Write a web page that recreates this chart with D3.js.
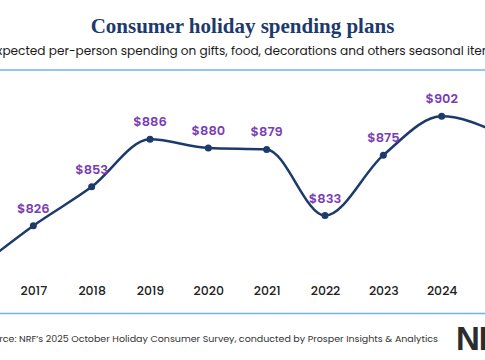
<!DOCTYPE html>
<html>
<head>
<meta charset="utf-8">
<script src="https://cdn.jsdelivr.net/npm/d3@7"></script>
<style>
html,body{margin:0;padding:0;background:#fff;overflow:hidden;}
svg{display:block;}
</style>
</head>
<body>
<svg id="chart" width="485" height="360"></svg>
<script>
const years = ["2016","2017","2018","2019","2020","2021","2022","2023","2024","2025"];
const spending = [795, 826, 853, 886, 880, 879, 833, 875, 902, 890];
const valueLabels = ["$795","$826","$853","$886","$880","$879","$833","$875","$902","$890"];
const title = "Consumer holiday spending plans";
const subtitle = "Expected per-person spending on gifts, food, decorations and others seasonal items";
const source = "Source: NRF’s 2025 October Holiday Consumer Survey, conducted by Prosper Insights & Analytics";

const W = 485, H = 360;
const svg = d3.select("#chart");
const sans = "Poppins, Inter, 'Open Sans', sans-serif";

const x = d3.scalePoint().domain(years).range([-25, 500]);
const y = d3.scaleLinear().domain([780, 910]).range([291.9, 104.8]);
const inView = yr => x(yr) > 0 && x(yr) < W;

// Title
svg.append("text").attr("x", W/2).attr("y", 33).attr("text-anchor","middle")
  .attr("font-family","'Liberation Serif', serif").attr("font-weight","bold")
  .attr("font-size", 21).attr("fill","#1d3a6e").text(title);

// Subtitle
svg.append("text").attr("x", W/2 + 3).attr("y", 55).attr("text-anchor","middle")
  .attr("font-family", sans).attr("font-size", 12.1).attr("fill","#1a1a1a").text(subtitle);

// top & bottom rules
svg.append("line").attr("x1",0).attr("x2",W).attr("y1",70).attr("y2",70)
  .attr("stroke","#74b0f4").attr("stroke-width",1.5);
svg.append("line").attr("x1",0).attr("x2",W).attr("y1",313.5).attr("y2",313.5)
  .attr("stroke","#74b0f4").attr("stroke-width",1.5);

const data = years.map((yr,i)=>({year:yr, v:spending[i], label:valueLabels[i]}));

// line
const line = d3.line().x(d=>x(d.year)).y(d=>y(d.v)).curve(d3.curveMonotoneX);
svg.append("path").datum(data).attr("d", line).attr("fill","none")
  .attr("stroke","#1c3a6c").attr("stroke-width",2.5);

svg.selectAll("circle.pt").data(data).join("circle").attr("class","pt")
  .attr("cx", d=>x(d.year)).attr("cy", d=>y(d.v)).attr("r",3.5).attr("fill","#1c3a6c");

// value labels (only those inside the visible frame, as in the reference)
svg.selectAll("text.val").data(data.filter(d=>inView(d.year))).join("text").attr("class","val")
  .attr("x", d=>x(d.year)).attr("y", d=>y(d.v)-13).attr("text-anchor","middle")
  .attr("font-family", sans).attr("font-weight","600").attr("font-size",13)
  .attr("fill","#7a3db6").text(d=>d.label);

// x axis
const xAxis = d3.axisBottom(x).tickValues(years.filter(inView)).tickSize(0).tickPadding(0);
const gx = svg.append("g").attr("transform","translate(0,295)").call(xAxis);
gx.select(".domain").remove();
gx.selectAll("text").attr("dy", 0).attr("font-family", sans).attr("font-size", 12.5)
  .attr("font-weight","500").attr("fill","#222");

// source
svg.append("text").attr("x", 438).attr("y", 342).attr("text-anchor","end")
  .attr("font-family", sans).attr("font-size", 9.5).attr("fill","#333").text(source);

// logo
svg.append("text").attr("x", 456).attr("y", 349.5)
  .attr("font-family","'Liberation Sans', Arial, sans-serif").attr("font-weight","bold")
  .attr("font-size", 33).attr("fill","#2b2b30").attr("letter-spacing",-1).text("NRF");
</script>
</body>
</html>
